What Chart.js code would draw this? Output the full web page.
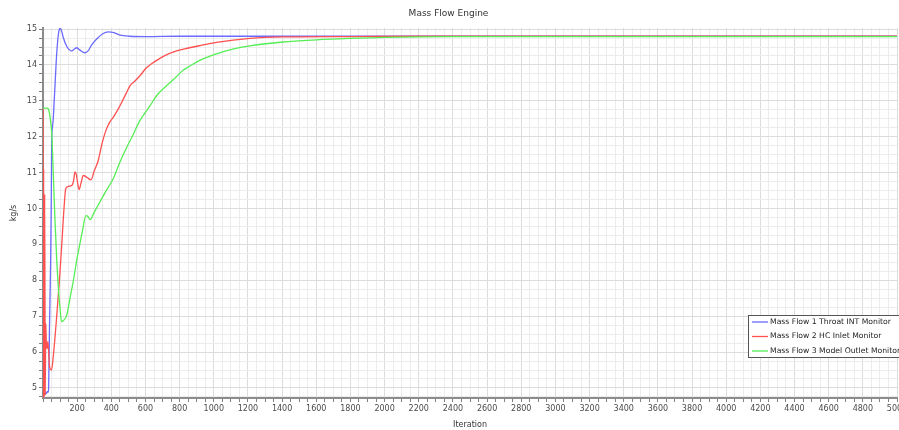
<!DOCTYPE html>
<html>
<head>
<meta charset="utf-8">
<title>Mass Flow Engine</title>
<script src="https://cdn.jsdelivr.net/npm/chart.js@4.4.1/dist/chart.umd.min.js"></script>
<style>
  html, body { margin: 0; padding: 0; background: #ffffff; }
  #wrap { width: 899px; height: 430px; }
</style>
</head>
<body>
<div id="wrap"><canvas id="chart" width="899" height="430"></canvas></div>
<script>
// Monitor names
const seriesNames = [
  'Mass Flow 1 Throat INT Monitor',
  'Mass Flow 2 HC Inlet Monitor',
  'Mass Flow 3 Model Outlet Monitor'
];

// Mass Flow 1 Throat INT Monitor (kg/s)
const throatIter = [0, 10, 20, 25, 30, 33, 38, 45, 48, 51, 55, 60, 65, 70, 80, 90, 95, 100, 105, 110, 119, 138, 155, 168, 185, 197, 215, 246, 265, 285, 320, 350, 382, 415, 451, 509, 600, 800, 1500, 5000];
const throatFlow = [4.75, 4.82, 4.85, 4.9, 4.88, 5.0, 6.7, 8.6, 10.0, 11.9, 12.25, 12.5, 12.95, 13.4, 14.3, 14.85, 14.98, 15.02, 15.0, 14.93, 14.76, 14.53, 14.42, 14.39, 14.45, 14.48, 14.42, 14.34, 14.4, 14.56, 14.75, 14.87, 14.92, 14.9, 14.83, 14.8, 14.79, 14.8, 14.8, 14.8];

// Mass Flow 2 HC Inlet Monitor (kg/s)
const inletIter = [0, 2, 4, 7, 10, 13, 16, 20, 24, 29, 38, 50, 60, 80, 99, 109, 125, 133, 150, 170, 180, 187, 195, 203, 212, 222, 236, 257, 281, 300, 323, 345, 368, 390, 411, 440, 465, 489, 509, 540, 567, 606, 640, 673, 713, 782, 830, 918, 1016, 1211, 1404, 1795, 2200, 5000];
const inletFlow = [12.8, 4.72, 11.1, 4.75, 10.4, 4.8, 6.8, 6.2, 6.1, 6.3, 5.6, 5.5, 5.87, 6.98, 8.2, 8.93, 10.14, 10.55, 10.62, 10.65, 10.8, 11.02, 10.95, 10.7, 10.53, 10.7, 10.92, 10.87, 10.8, 11.05, 11.33, 11.8, 12.17, 12.4, 12.54, 12.77, 13.0, 13.23, 13.42, 13.56, 13.7, 13.92, 14.05, 14.15, 14.26, 14.39, 14.45, 14.54, 14.63, 14.74, 14.78, 14.79, 14.8, 14.8];

// Mass Flow 3 Model Outlet Monitor (kg/s)
const outletIter = [0, 20, 31, 38, 45, 51, 60, 70, 80, 90, 100, 109, 120, 139, 160, 180, 197, 203, 230, 251, 263, 275, 300, 333, 370, 411, 450, 490, 527, 567, 606, 626, 673, 723, 772, 820, 860, 918, 1016, 1111, 1211, 1404, 1600, 1795, 2000, 2400, 3000, 5000];
const outletFlow = [12.8, 12.8, 12.78, 12.65, 12.4, 12.1, 11.0, 9.7, 8.6, 7.8, 7.2, 6.85, 6.88, 7.03, 7.55, 8.05, 8.55, 8.7, 9.35, 9.8, 9.78, 9.69, 9.9, 10.18, 10.5, 10.83, 11.29, 11.7, 12.05, 12.45, 12.72, 12.86, 13.19, 13.42, 13.63, 13.85, 13.97, 14.13, 14.31, 14.44, 14.53, 14.64, 14.7, 14.74, 14.77, 14.79, 14.79, 14.79];

// Axis ranges and tick steps
const iterRange = [0, 5000];
const iterMinorStep = 50;
const iterLabelStep = 200;
const flowRange = [4.72, 15.03];
const flowMinorStep = 0.25;

const FONT = '"DejaVu Sans", "Liberation Sans", sans-serif';
const lineColors = ['#6a6aff', '#ff5050', '#55ee55'];

function toPoints(xs, ys) {
  return xs.map((x, i) => ({ x: x, y: ys[i] }));
}

function isMultiple(v, step) {
  const r = v / step;
  return Math.abs(r - Math.round(r)) < 1e-6;
}

// Boxed legend drawn inside the plot, lower right
const boxedLegend = {
  id: 'boxedLegend',
  afterDraw(chart) {
    const ctx = chart.ctx;
    const area = chart.chartArea;
    const x0 = area.right - 149;
    const y0 = area.top + 287;
    const w = 160, h = 42;
    ctx.save();
    ctx.fillStyle = '#ffffff';
    ctx.fillRect(x0, y0, w, h);
    ctx.strokeStyle = '#555555';
    ctx.lineWidth = 1;
    ctx.strokeRect(x0 + 0.5, y0 + 0.5, w, h);
    ctx.font = '7.7px ' + FONT;
    ctx.textBaseline = 'middle';
    ctx.textAlign = 'left';
    chart.data.datasets.forEach((ds, i) => {
      const cy = y0 + 7 + i * 14.5;
      ctx.strokeStyle = ds.borderColor;
      ctx.lineWidth = 1.3;
      ctx.beginPath();
      ctx.moveTo(x0 + 4, cy);
      ctx.lineTo(x0 + 20, cy);
      ctx.stroke();
      ctx.fillStyle = '#222222';
      ctx.fillText(ds.label, x0 + 22, cy);
    });
    ctx.restore();
  }
};

const datasets = [
  { label: seriesNames[0], data: toPoints(throatIter, throatFlow), borderColor: lineColors[0], order: 2 },
  { label: seriesNames[1], data: toPoints(inletIter, inletFlow), borderColor: lineColors[1], order: 1 },
  { label: seriesNames[2], data: toPoints(outletIter, outletFlow), borderColor: lineColors[2], order: 0 }
].map(d => Object.assign(d, {
  borderWidth: 1.3,
  pointRadius: 0,
  fill: false,
  cubicInterpolationMode: 'monotone'
}));

new Chart(document.getElementById('chart'), {
  type: 'line',
  data: { datasets: datasets },
  plugins: [boxedLegend],
  options: {
    responsive: false,
    animation: false,
    devicePixelRatio: 1,
    layout: { padding: { left: 0, right: 2, top: 0, bottom: 0 } },
    plugins: {
      legend: { display: false },
      tooltip: { enabled: false },
      title: {
        display: true,
        text: 'Mass Flow Engine',
        color: '#333333',
        font: { family: FONT, size: 9, weight: 'normal' },
        padding: { top: 8, bottom: 9.2 }
      }
    },
    scales: {
      x: {
        type: 'linear',
        min: iterRange[0],
        max: iterRange[1],
        afterFit(scale) {
          scale.height = 32;
          scale.paddingLeft = 0;
          scale.paddingRight = 0;
        },
        border: { display: true, color: '#8c8c8c', width: 2 },
        grid: {
          color: c => isMultiple(c.tick.value, iterLabelStep) ? '#dcdcdc' : '#ececec',
          tickColor: '#808080',
          tickLength: 4,
          lineWidth: 1
        },
        ticks: {
          stepSize: iterMinorStep,
          includeBounds: false,
          autoSkip: false,
          maxRotation: 0,
          padding: 2,
          color: '#4a4a4a',
          font: { family: FONT, size: 8 },
          callback: v => (v !== 0 && isMultiple(v, iterLabelStep)) ? String(v) : ''
        },
        title: {
          display: true,
          text: 'Iteration',
          color: '#333333',
          font: { family: FONT, size: 8 },
          padding: { top: 0, bottom: 0 }
        }
      },
      y: {
        type: 'linear',
        min: flowRange[0],
        max: flowRange[1],
        afterFit(scale) {
          scale.width = 43;
        },
        border: { display: true, color: '#8c8c8c', width: 2 },
        grid: {
          color: c => isMultiple(c.tick.value, 1) ? '#dcdcdc' : '#ececec',
          tickColor: '#808080',
          tickLength: 4,
          lineWidth: 1
        },
        ticks: {
          stepSize: flowMinorStep,
          includeBounds: false,
          autoSkip: false,
          padding: 2,
          color: '#4a4a4a',
          font: { family: FONT, size: 8 },
          callback: v => isMultiple(v, 1) ? String(Math.round(v)) : ''
        },
        title: {
          display: true,
          text: 'kg/s',
          color: '#333333',
          font: { family: FONT, size: 8 },
          padding: { top: 9, bottom: 0 }
        }
      }
    }
  }
});
</script>
</body>
</html>
